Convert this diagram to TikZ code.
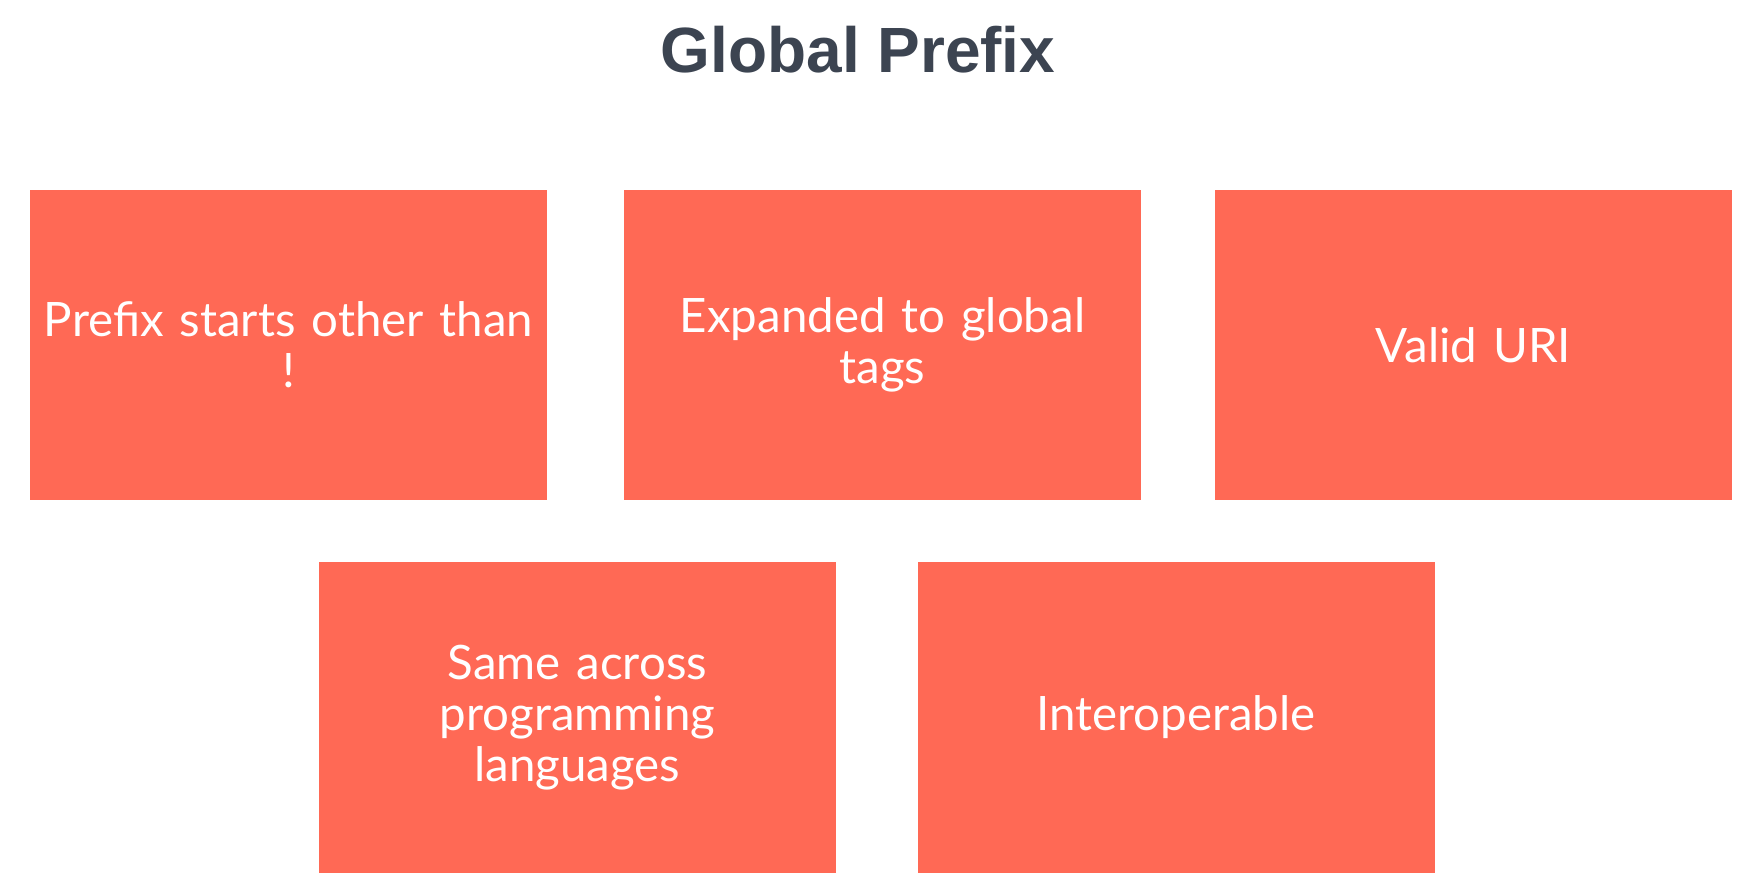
\documentclass[tikz,border=0pt]{standalone}
\usepackage{fontspec}
\setmainfont{Lato}
\newfontfamily\titlefont{Liberation Sans}
\usepackage{xcolor}
\definecolor{boxred}{HTML}{FF6955}
\definecolor{titlegray}{HTML}{3C4451}

\tikzset{
	card/.style={fill=boxred, minimum width=5.17cm, minimum height=3.1cm,
		text width=5.1cm, align=center, text=white, inner sep=0pt,
		font=\fontsize{13.5}{14.5}\selectfont},
}

\begin{document}
\begin{tikzpicture}[x=1cm,y=1cm]
			\useasboundingbox (0,0) rectangle (17.47,-8.90);
			
			\node[text=titlegray, font=\titlefont\bfseries\fontsize{18.2}{22}\selectfont] (title) at (8.58,-0.50) {Global Prefix};
			
			\node[card] (starts) at (2.885,-3.45) {Prefix starts other than\\!};
			\node[card] (expanded) at (8.825,-3.45) {Expanded to global\\tags};
			\node[card] (uri) at (14.735,-3.45) {Valid URI};
			
			\node[card] (same) at (5.775,-7.175) {Same across\\programming\\languages};
			\node[card] (interop) at (11.76,-7.175) {Interoperable};
		\end{tikzpicture}
\end{document}
